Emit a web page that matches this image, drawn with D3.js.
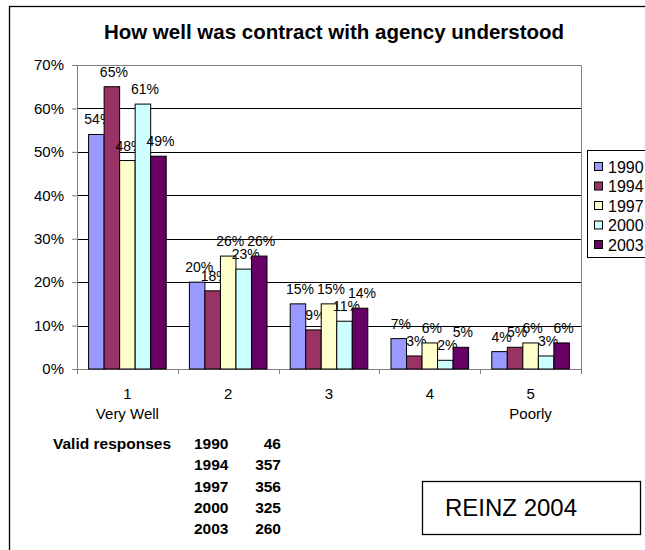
<!DOCTYPE html>
<html>
<head>
<meta charset="utf-8">
<script src="https://cdn.jsdelivr.net/npm/d3@7"></script>
<style>
  body { margin: 0; background: #fff; }
  svg { display: block; font-family: Arial, "Liberation Sans", sans-serif; }
</style>
</head>
<body>
<div id="chart"></div>
<script>
// data
const categories = ["1", "2", "3", "4", "5"]
const catNames = ["Very Well", "", "", "", "Poorly"]
const years = ["1990", "1994", "1997", "2000", "2003"]
const values = {
  "1990": [54, 20, 15, 7, 4],
  "1994": [65, 18, 9, 3, 5],
  "1997": [48, 26, 15, 6, 6],
  "2000": [61, 23, 11, 2, 3],
  "2003": [49, 26, 14, 5, 6]
}
const responses = [46, 357, 356, 325, 260]
const yTicks = [0, 10, 20, 30, 40, 50, 60, 70]
const colors = ["#9999ff", "#993366", "#ffffcc", "#ccffff", "#660066"]

const W = 645, H = 550
var margin = {top: 65, left: 77},
    width = 581 - 77,
    height = 369 - 65

var svg = d3.select("#chart").append("svg")
    .attr("width", W)
    .attr("height", H)

// outer chart frame (runs off the right and bottom)
svg.append("rect")
    .attr("x", 9.5).attr("y", 6.5)
    .attr("width", 700).attr("height", 600)
    .attr("fill", "none").attr("stroke", "#000").attr("stroke-width", 1.3)

svg.append("text")
    .attr("x", 334).attr("y", 39)
    .attr("text-anchor", "middle")
    .attr("font-size", 20.5).attr("font-weight", "bold")
    .text("How well was contract with agency understood")

var g = svg.append("g")
    .attr("transform", "translate(" + margin.left + "," + margin.top + ")")

var x = d3.scaleBand()
    .domain(categories)
    .range([0, width])
    .paddingInner(0.23).paddingOuter(0.115)
var xs = d3.scaleBand()
    .domain(years)
    .range([0, x.bandwidth()])
var y = d3.scaleLinear()
    .domain([0, 70])
    .range([height, 0])

// gridlines
g.selectAll(".grid")
    .data(yTicks.filter(d => d > 0 && d < 70))
    .enter().append("line")
    .attr("x1", 0).attr("x2", width)
    .attr("y1", d => Math.round(y(d)) + 0.5).attr("y2", d => Math.round(y(d)) + 0.5)
    .attr("stroke", "#000")

// plot area border top / right
g.append("path")
    .attr("d", "M0.5,0.5H" + (width + 0.5) + "V" + height)
    .attr("fill", "none").attr("stroke", "#808080")

// y axis
var yAxis = g.append("g")
    .call(d3.axisLeft(y).tickValues(yTicks).tickFormat(d => d + "%").tickSize(5).tickSizeOuter(0))
yAxis.select(".domain").attr("stroke", "#808080")
yAxis.selectAll(".tick line").attr("stroke", "#808080")
yAxis.selectAll("text").attr("font-size", 15).attr("fill", "#000").attr("x", -13)
    .style("font-family", "Arial, 'Liberation Sans', sans-serif")

// x axis: ticks at category boundaries
var xAxis = g.append("g").attr("transform", "translate(0," + height + ")")
xAxis.append("line")
    .attr("x1", 0).attr("x2", width).attr("y1", 0.5).attr("y2", 0.5)
    .attr("stroke", "#808080")
xAxis.selectAll(".tk")
    .data(d3.range(categories.length + 1))
    .enter().append("line")
    .attr("x1", i => Math.round(i * width / categories.length) + 0.5)
    .attr("x2", i => Math.round(i * width / categories.length) + 0.5)
    .attr("y1", 0).attr("y2", 5)
    .attr("stroke", "#808080")
xAxis.selectAll(".num")
    .data(categories)
    .enter().append("text")
    .attr("x", d => x(d) + x.bandwidth() / 2)
    .attr("y", 30)
    .attr("text-anchor", "middle").attr("font-size", 15)
    .text(d => d)
xAxis.selectAll(".nm")
    .data(categories)
    .enter().append("text")
    .attr("x", d => x(d) + x.bandwidth() / 2)
    .attr("y", 50)
    .attr("text-anchor", "middle").attr("font-size", 15)
    .text((d, i) => catNames[i])

// bars
years.forEach(function(yr, j) {
  var rows = categories.map((c, i) => ({c: c, v: values[yr][i]}))
  g.selectAll(".b" + yr)
      .data(rows)
      .enter().append("rect")
      .attr("x", d => x(d.c) + xs(yr))
      .attr("y", d => y(d.v))
      .attr("width", xs.bandwidth())
      .attr("height", d => height - y(d.v))
      .attr("fill", colors[j])
      .attr("stroke", "#000").attr("stroke-width", 1)
  g.selectAll(".l" + yr)
      .data(rows)
      .enter().append("text")
      .attr("x", d => x(d.c) + xs(yr) + xs.bandwidth() / 2 + 2)
      .attr("y", d => y(d.v) - 10)
      .attr("text-anchor", "middle").attr("font-size", 14)
      .text(d => d.v + "%")
})

// legend (cut off by the right edge)
var leg = svg.append("g").attr("transform", "translate(587,150)")
leg.append("rect")
    .attr("x", 0.5).attr("y", 0.5).attr("width", 100).attr("height", 107)
    .attr("fill", "#fff").attr("stroke", "#000")
years.forEach(function(yr, j) {
  var row = leg.append("g").attr("transform", "translate(0," + (17 + j * 19.5) + ")")
  row.append("rect")
      .attr("x", 7.5).attr("y", -4.5).attr("width", 8).attr("height", 8)
      .attr("fill", colors[j]).attr("stroke", "#000")
  row.append("text")
      .attr("x", 21).attr("y", 5.5).attr("font-size", 16)
      .text(yr)
})

// valid responses table
var tb = svg.append("g").attr("font-size", 15.5).attr("font-weight", "bold")
tb.append("text").attr("x", 53).attr("y", 449).text("Valid responses")
tb.selectAll(".yr")
    .data(years)
    .enter().append("text")
    .attr("x", 194).attr("y", (d, i) => 449 + i * 21.3)
    .text(d => d)
tb.selectAll(".n")
    .data(responses)
    .enter().append("text")
    .attr("x", 281).attr("y", (d, i) => 449 + i * 21.3)
    .attr("text-anchor", "end")
    .text(d => d)

// source box
svg.append("rect")
    .attr("x", 422.5).attr("y", 481.5).attr("width", 218).attr("height", 53)
    .attr("fill", "#fff").attr("stroke", "#000").attr("stroke-width", 1.3)
svg.append("text")
    .attr("x", 445).attr("y", 516)
    .attr("font-size", 24)
    .text("REINZ 2004")
</script>
</body>
</html>
